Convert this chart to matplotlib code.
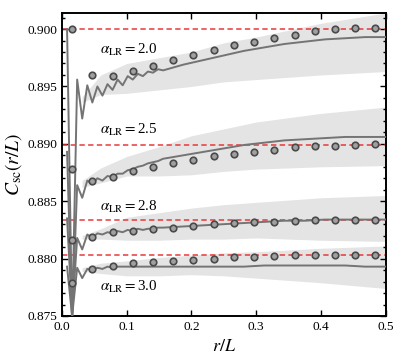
import numpy as np
import matplotlib
matplotlib.use("Agg")
import matplotlib.pyplot as plt
from matplotlib.ticker import MultipleLocator

plt.rcParams['font.family'] = ['Liberation Serif', 'DejaVu Serif']
plt.rcParams['mathtext.fontset'] = 'stix'

alphas = ["2.0", "2.5", "2.8", "3.0"]

# line data (x = k/128 for k=1..20, then every 1/32)
x_line = np.r_[np.arange(1, 21) / 128, np.arange(6, 17) / 32]
line_20 = [0.9000, 0.8745, 0.8956, 0.8922, 0.8951, 0.8936, 0.8950, 0.8942, 0.8952, 0.8947,
           0.8956, 0.8951, 0.8959, 0.8956, 0.8961, 0.8959, 0.8963, 0.8962, 0.8965, 0.8964,
           0.8969, 0.8973, 0.8977, 0.8981, 0.8984, 0.8987, 0.8989, 0.8991, 0.8992, 0.8993, 0.8993]
line_25 = [0.8893, 0.8745, 0.8864, 0.8853, 0.8868, 0.8865, 0.8870, 0.8868, 0.8872, 0.8871,
           0.8874, 0.8874, 0.8877, 0.8878, 0.8880, 0.8881, 0.8883, 0.8884, 0.8885, 0.8887,
           0.8890, 0.8893, 0.8896, 0.8899, 0.8901, 0.8903, 0.8904, 0.8905, 0.8906, 0.8906, 0.8906]
line_28 = [0.8835, 0.8752, 0.8818, 0.8808, 0.8821, 0.8818, 0.8822, 0.8821, 0.8823, 0.8822,
           0.8824, 0.8823, 0.8825, 0.8824, 0.8826, 0.8825, 0.8826, 0.8826, 0.8827, 0.8827,
           0.8828, 0.8829, 0.8830, 0.8831, 0.8832, 0.8833, 0.8833, 0.8834, 0.8834, 0.8834, 0.8834]
line_30 = [0.8793, 0.8750, 0.8792, 0.8783, 0.8791, 0.8790, 0.8792, 0.8791, 0.8793, 0.8792,
           0.8793, 0.8793, 0.8793, 0.8793, 0.8793, 0.8793, 0.8793, 0.8793, 0.8793, 0.8793,
           0.8793, 0.8793, 0.8793, 0.8793, 0.8794, 0.8794, 0.8794, 0.8794, 0.8794, 0.8793, 0.8793]

# marker data (x = (2k+1)/64)
x_mark = (2 * np.arange(16) + 1) / 64
mark_20 = [0.9000, 0.8960, 0.8959, 0.89635, 0.8968, 0.8973, 0.8977, 0.8982,
           0.8986, 0.8989, 0.8992, 0.8995, 0.8998, 0.9000, 0.9001, 0.9001]
mark_25 = [0.8878, 0.8868, 0.8871, 0.8876, 0.8880, 0.8883, 0.8886, 0.8889,
           0.8891, 0.8893, 0.8895, 0.8897, 0.8898, 0.8898, 0.8899, 0.8900]
mark_28 = [0.8816, 0.8819, 0.8823, 0.8824, 0.8826, 0.8827, 0.8828, 0.8830,
           0.8831, 0.8832, 0.8832, 0.8833, 0.8834, 0.8834, 0.8834, 0.8834]
mark_30 = [0.87785, 0.8791, 0.87935, 0.8796, 0.8797, 0.8798, 0.8799, 0.8800,
           0.8801, 0.8801, 0.8802, 0.8803, 0.8803, 0.8803, 0.8803, 0.8803]

# reference values (red dashed)
ref_vals = [0.9000, 0.8899, 0.8834, 0.8803]

# shaded bands
x_band = [0.031, 0.06, 0.1, 0.15, 0.2, 0.25, 0.3, 0.4, 0.5]
band_20_hi = [0.8941, 0.8960, 0.8970, 0.8975, 0.8980, 0.8988, 0.8993, 0.9005, 0.9014]
band_20_lo = [0.8936, 0.8943, 0.8944, 0.8947, 0.8950, 0.8954, 0.8956, 0.8960, 0.8963]
band_25_hi = [0.8868, 0.8879, 0.8889, 0.88975, 0.8907, 0.8913, 0.8919, 0.89265, 0.8932]
band_25_lo = [0.8862, 0.8866, 0.8872, 0.8872, 0.8873, 0.8876, 0.8878, 0.8880, 0.8881]
band_28_hi = [0.8820, 0.8826, 0.8836, 0.8840, 0.8844, 0.8847, 0.8849, 0.8853, 0.8855]
band_28_lo = [0.8817, 0.8817, 0.8816, 0.8816, 0.8817, 0.8817, 0.8818, 0.8816, 0.8815]
band_30_hi = [0.8792, 0.8796, 0.8798, 0.8801, 0.8803, 0.8805, 0.8806, 0.8809, 0.8811]
band_30_lo = [0.8789, 0.8787, 0.8785, 0.8785, 0.8786, 0.8785, 0.8783, 0.8779, 0.8774]

label_pos = [(0.059, 0.8982), (0.059, 0.8912), (0.059, 0.88452), (0.059, 0.87750)]

lines = [line_20, line_25, line_28, line_30]
marks = [mark_20, mark_25, mark_28, mark_30]
bands = [(band_20_lo, band_20_hi), (band_25_lo, band_25_hi),
         (band_28_lo, band_28_hi), (band_30_lo, band_30_hi)]

fig = plt.figure(figsize=(3.98, 3.59), dpi=100)
ax = fig.add_axes([0.1558, 0.1198, 0.8128, 0.8440])

for i in range(4):
    lo, hi = bands[i]
    ax.fill_between(x_band, lo, hi, color='#e4e4e4', lw=0, zorder=1)
for i in range(4):
    ax.axhline(ref_vals[i], color='#e8383a', ls=(0, (3.5, 2.2)), lw=1.1, zorder=2)
    ax.plot(x_line, lines[i], color='#747474', lw=1.4, zorder=3)
    ax.plot(x_mark, marks[i], 'o', ms=4.7, mfc='#a0a0a0', mec='#4a4a4a', mew=1.2, zorder=4)
    ax.text(label_pos[i][0], label_pos[i][1],
            r'$\alpha_{\rm LR}=$' + alphas[i], fontsize=10.8, va='center', ha='left', zorder=5)

ax.set_xlim(0, 0.5)
ax.set_ylim(0.875, 0.9014)
ax.xaxis.set_major_locator(MultipleLocator(0.1))
ax.yaxis.set_major_locator(MultipleLocator(0.005))
ax.yaxis.set_minor_locator(MultipleLocator(0.001))
ax.yaxis.set_major_formatter(matplotlib.ticker.FormatStrFormatter('%.3f'))
ax.tick_params(which='both', direction='in', top=True, right=True, labelsize=9.6, width=1.0)
ax.tick_params(which='major', length=4)
ax.tick_params(which='minor', length=2.5)
for s in ax.spines.values():
    s.set_linewidth(1.4)
ax.set_xlabel(r'$r/L$', fontsize=13, labelpad=4)
ax.set_ylabel(r'$C_{\rm sc}(r/L)$', fontsize=14, labelpad=2)

fig.savefig('out.png', dpi=100)
